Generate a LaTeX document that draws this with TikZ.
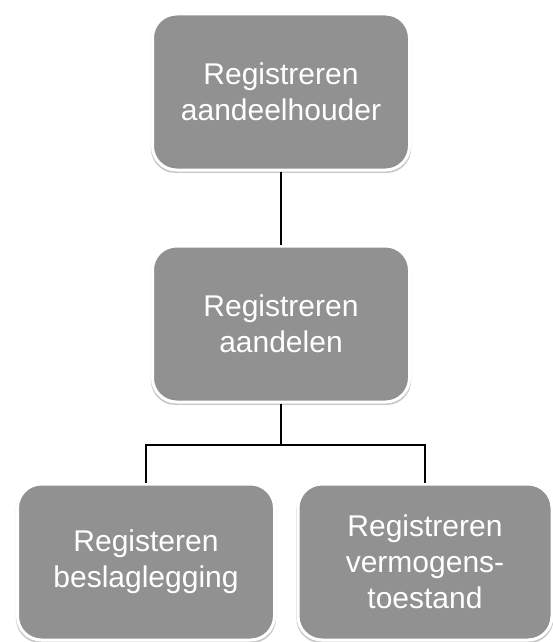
\documentclass[tikz,border=0pt]{standalone}
\usepackage{fontspec}
\setmainfont{Liberation Sans}
\usetikzlibrary{shadows}
\tikzset{
	blok/.style={draw=white, line width=3pt, fill=black!43, rounded corners=24pt,
		minimum width=257pt, minimum height=156pt, align=center, text=white,
		font=\fontsize{30}{36}\selectfont,
		general shadow={fill=black!22, shadow scale=1.012, shadow yshift=-2pt}},
	lijn/.style={line width=1.2pt}
}
\begin{document}
\begin{tikzpicture}[x=1pt, y=-1pt]
	\useasboundingbox (0, 0) rectangle (553, 642);
	\node[blok]		(0)	at (281, 92)	{Registreren\\aandeelhouder};
	\node[blok]		(1)	at (281, 324)	{Registreren\\aandelen};
	\node[blok]		(2)	at (146, 562)	{Registeren\\beslaglegging};
	\node[blok, minimum width=254pt]	(3)	at (425, 562)	{Registreren\\vermogens-\\toestand};
	\coordinate		(split) at (281, 445);
	\draw[lijn] (0) -- (1);
	\draw[lijn] (1) -- (split) -| (2);
	\draw[lijn] (split) -| (3);
\end{tikzpicture}
\end{document}
